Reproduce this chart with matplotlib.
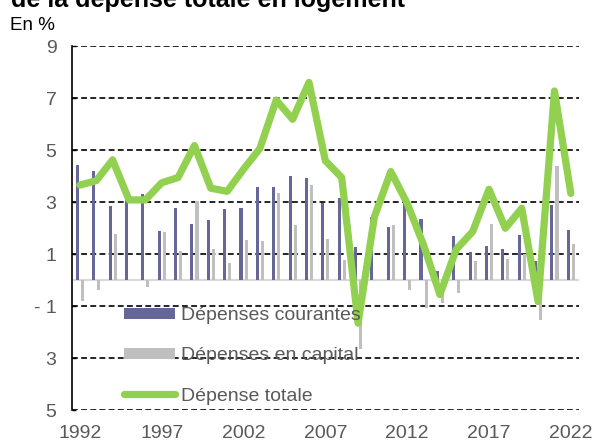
import matplotlib
matplotlib.use("Agg")
import matplotlib.pyplot as plt
import numpy as np

years = list(range(1992, 2023))
courantes = [4.42, 4.19, 2.85, 3.08, 3.31, 1.87, 2.77, 2.15, 2.29, 2.72,
             2.76, 3.58, 3.58, 4.00, 3.92, 2.97, 3.17, 1.27, 2.44, 2.04,
             3.33, 2.35, 0.33, 1.68, 1.08, 1.31, 1.18, 1.72, 0.73, 2.87, 1.92]
capital = [-0.80, -0.38, 1.76, 0.00, -0.26, 1.83, 1.12, 3.03, 1.18, 0.65,
           1.54, 1.50, 3.33, 2.13, 3.67, 1.58, 0.76, -2.65, 0.00, 2.12,
           -0.38, -1.06, -0.87, -0.51, 0.74, 2.17, 0.82, 1.00, -1.54, 4.38, 1.38]
totale = [3.65, 3.82, 4.62, 3.08, 3.08, 3.74, 3.94, 5.17, 3.53, 3.41,
          4.26, 5.06, 6.92, 6.18, 7.60, 4.59, 3.94, -1.66, 2.44, 4.17,
          2.95, 1.35, -0.56, 1.18, 1.86, 3.49, 1.99, 2.76, -0.83, 7.27, 3.33]
ytick_vals = [9, 7, 5, 3, 1, -1, -3, -5]
ytick_labels = ["9", "7", "5", "3", "1", "- 1", "3", "5"]
xtick_years = [1992, 1997, 2002, 2007, 2012, 2017, 2022]

title = "de la dépense totale en logement"
unit = "En %"
labels = ["Dépenses courantes", "Dépenses en capital", "Dépense totale"]

plt.rcParams['font.family'] = ['Liberation Sans', 'DejaVu Sans']

fig = plt.figure(figsize=(5.95, 4.44), dpi=100)
ax = fig.add_axes([71.7/595, 1-410/444, (579-71.7)/595, (410-46)/444])

x = np.arange(len(years))
w = 0.19
b1 = ax.bar(x - 0.155, courantes, width=w, color="#666699", label=labels[0], zorder=3)
b2 = ax.bar(x + 0.155, capital, width=w, color="#BFBFBF", label=labels[1], zorder=3)
l1, = ax.plot(x, totale, color="#92D050", lw=5.2, solid_joinstyle="round",
              solid_capstyle="round", label=labels[2], zorder=4)

ax.set_xlim(-0.5, len(years) - 0.5)
ax.set_ylim(-5, 9)
for v in ytick_vals:
    ax.axhline(v, color="black", lw=1.2, ls=(0, (3.5, 2)), zorder=1)
ax.axhline(0, color="#D9D9D9", lw=1.6, zorder=2)

ax.set_yticks(ytick_vals)
ax.set_yticklabels(ytick_labels)
ax.set_xticks([years.index(y) for y in xtick_years])
ax.set_xticklabels([str(y) for y in xtick_years])
ax.tick_params(axis="y", direction="in", length=3, width=1, pad=11,
               labelsize=14, labelcolor="#595959", color="black")
ax.tick_params(axis="x", length=0, pad=11, labelsize=14, labelcolor="#595959")
for s in ["top", "right", "bottom"]:
    ax.spines[s].set_visible(False)
ax.spines["left"].set_color("black")
ax.spines["left"].set_linewidth(1.2)

leg = ax.legend(handles=[b1, b2, l1], labels=labels,
                loc="upper left", bbox_to_anchor=(52/507, 1-(307-46)/364),
                frameon=False, fontsize=14, handlelength=2.65, handleheight=0.5,
                handletextpad=0.3, labelspacing=1.2, borderpad=0, borderaxespad=0)
leg.set_zorder(5)
for t in leg.get_texts():
    t.set_color("#595959")

fig.text(11/595, 1-7/444, title, fontsize=18, fontweight="bold", va="baseline", ha="left")
fig.text(10/595, 1-30/444, unit, fontsize=13.5, va="baseline", ha="left")

fig.savefig("out.png", dpi=100)
